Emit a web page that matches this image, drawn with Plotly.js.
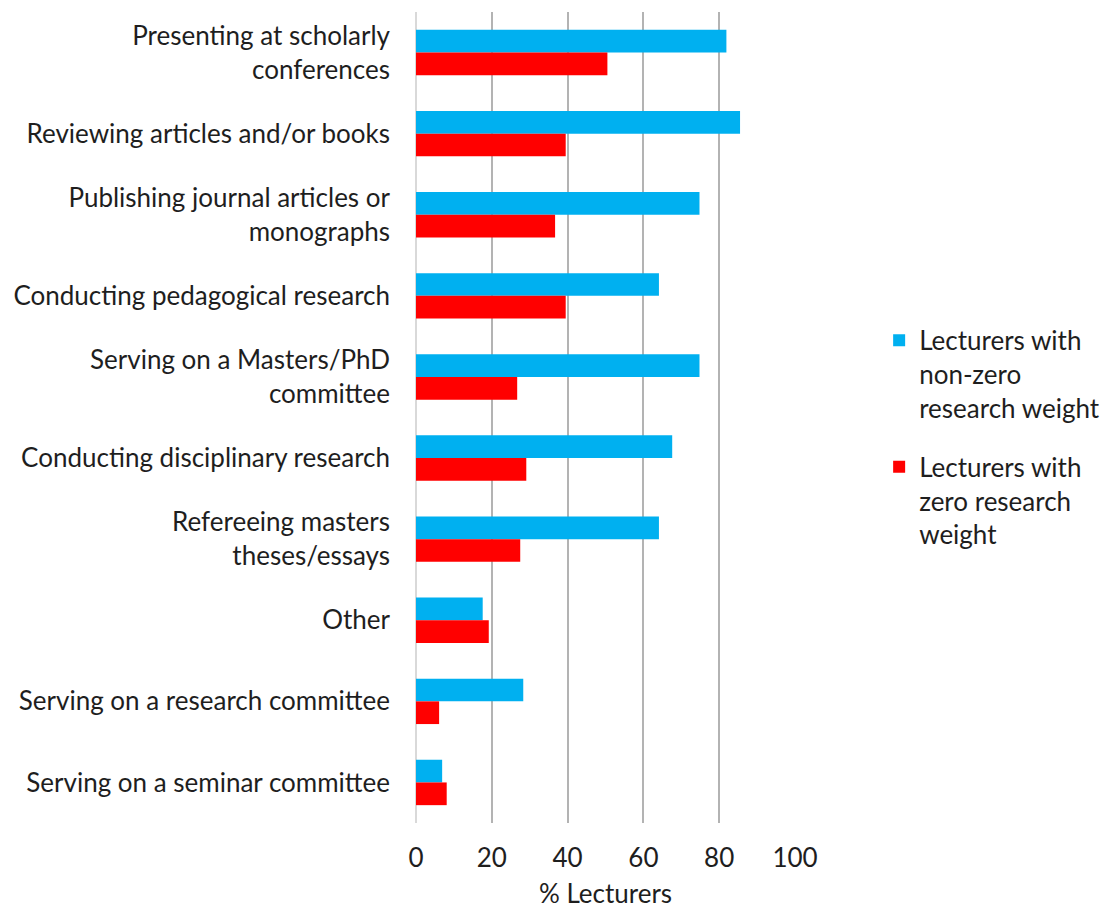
<!DOCTYPE html>
<html>
<head>
<meta charset="utf-8">
<script src="https://cdn.plot.ly/plotly-3.0.1.min.js"></script>
<style>html,body{margin:0;padding:0;background:#fff}#chart{width:1104px;height:909px}</style>
</head>
<body>
<div id="chart"></div>
<script>
const categories = [
  "Presenting at scholarly<br>conferences",
  "Reviewing articles and/or books",
  "Publishing journal articles or<br>monographs",
  "Conducting pedagogical research",
  "Serving on a Masters/PhD<br>committee",
  "Conducting disciplinary research",
  "Refereeing masters<br>theses/essays",
  "Other",
  "Serving on a research committee",
  "Serving on a seminar committee"
];
const nonZeroWeight = [81.9, 85.5, 74.8, 64.1, 74.8, 67.6, 64.1, 17.6, 28.3, 6.9];
const zeroWeight = [50.5, 39.5, 36.7, 39.5, 26.7, 29.1, 27.5, 19.2, 6.1, 8.1];
const seriesNames = ["Lecturers with<br>non-zero<br>research weight", "Lecturers with<br>zero research<br>weight"];
const xTicks = [0, 20, 40, 60, 80, 100];

const font = "Lato, 'Open Sans', sans-serif";
const txt = "#1e1e1e";
const fs = 26;
const data = [
  {type: "bar", orientation: "h", name: seriesNames[0], legendgroup: "a", y: categories, x: nonZeroWeight,
   marker: {color: "#00B0F0"}},
  {type: "bar", orientation: "h", name: seriesNames[1], legendgroup: "b", y: categories, x: zeroWeight,
   marker: {color: "#FF0000"}}
];
const layout = {
  width: 1104, height: 909,
  margin: {l: 416, r: 309, t: 12, b: 86, autoexpand: false},
  paper_bgcolor: "#fff", plot_bgcolor: "#fff",
  font: {family: font, size: fs, color: txt},
  barmode: "group", bargap: 0.44, bargroupgap: 0,
  xaxis: {range: [0, 100], tickvals: xTicks, ticktext: xTicks.map(String),
    showgrid: true, gridcolor: "#b3b3b3", gridwidth: 2,
    zeroline: true, zerolinecolor: "#d9d9d9", zerolinewidth: 2,
    showline: false, ticks: "", ticklen: 0, ticklabelstandoff: 17,
    title: {text: "% Lecturers", font: {family: font, size: fs, color: txt}, standoff: 21},
    tickfont: {family: font, size: fs, color: txt}, fixedrange: true, automargin: true},
  yaxis: {autorange: "reversed", showgrid: false, zeroline: false, showline: false,
    ticks: "", ticklen: 0, ticklabelstandoff: 25,
    tickfont: {family: font, size: fs, color: txt}, automargin: false},
  showlegend: true,
  legend: {x: 1.222, xanchor: "left", y: 0.624, yanchor: "top", valign: "top",
    font: {family: font, size: fs, color: txt}, tracegroupgap: 22, itemwidth: 30,
    bgcolor: "rgba(0,0,0,0)"}
};
Plotly.newPlot("chart", data, layout, {displayModeBar: false, staticPlot: true});
</script>
</body>
</html>
